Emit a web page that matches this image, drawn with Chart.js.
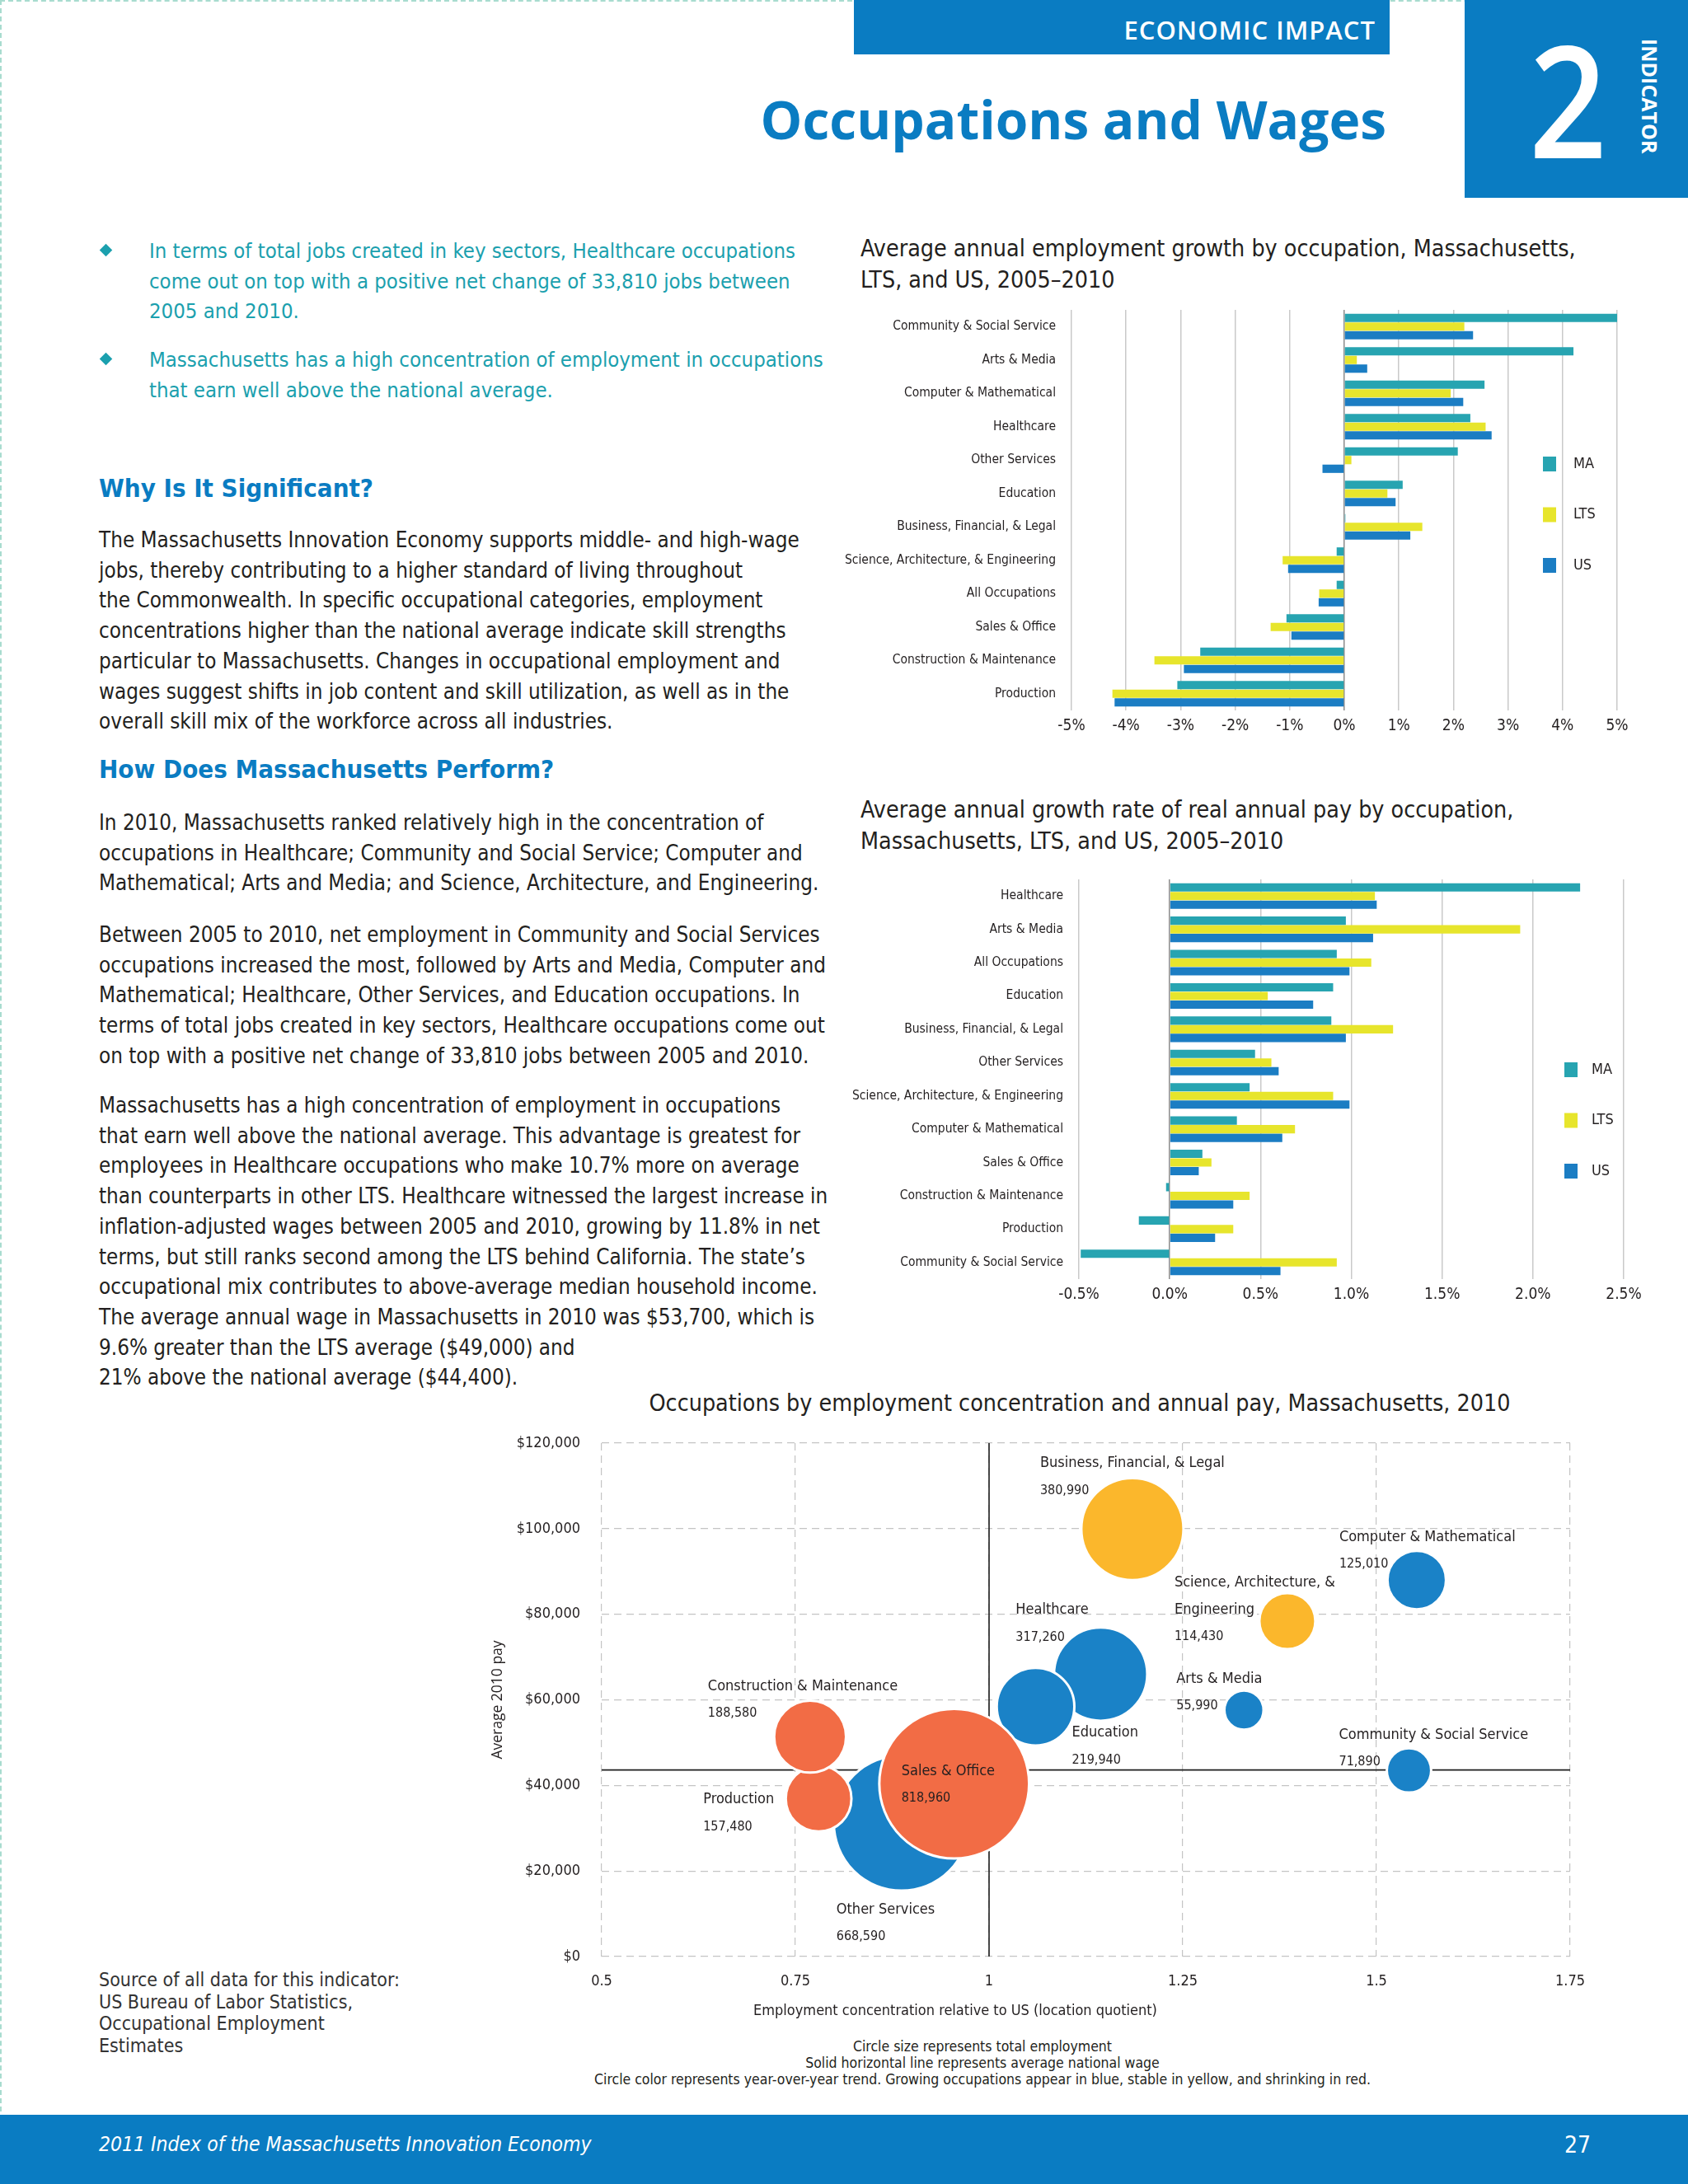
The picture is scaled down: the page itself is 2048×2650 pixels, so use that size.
<!DOCTYPE html>
<html>
<head>
<meta charset="utf-8">
<script src="https://cdn.jsdelivr.net/npm/chart.js@4.4.1/dist/chart.umd.min.js"></script>
<style>
  body { margin: 0; background: #fff; }
  #page { position: relative; width: 2048px; height: 2650px; overflow: hidden; background: #fff;
          font-family: 'Liberation Sans Narrow', 'DejaVu Sans Condensed', Lato, sans-serif; color: #231f20; }
  .abs { position: absolute; white-space: nowrap; }
  .frame { position: absolute; left: 0; top: 0; width: 2100px; height: 2600px; border-top: 2px dashed #a8dccf; border-left: 2px dashed #a8dccf; }
  .topbar { left: 1036px; top: 0; width: 650px; height: 66px; background: #0a7cc2; }
  .topbar span { position: absolute; right: 17px; top: 15px; color: #fff; font: 600 31px 'Open Sans', sans-serif; letter-spacing: 1px; }
  .title { left: 880px; width: 802px; top: 101px; text-align: right; color: #0a7cc2; font: 700 64px 'Open Sans', sans-serif; }
  .indic { left: 1777px; top: 0; width: 271px; height: 240px; background: #0a7cc2; }
  .indic .num { position: absolute; left: 78px; top: 24px; color: #fff; font: 600 188px 'Open Sans', sans-serif; line-height: 190px;
                transform: scaleX(0.88); transform-origin: left top; }
  .indic .word { position: absolute; left: 208px; top: 47px; color: #fff; font: 700 25px 'Open Sans', sans-serif;
                 writing-mode: vertical-rl; }
  .bullet { color: #1ba0ae; font-size: 25.5px; line-height: 36.5px; left: 181px; }
  .dia { width: 11px; height: 11px; background: #1ba0ae; transform: rotate(45deg); left: 123px; }
  .head { color: #0a7cc2; font-weight: 700; font-size: 31px; left: 120px; }
  .para { font-size: 25.8px; line-height: 36.7px; left: 120px; }
  .ctitle { font-size: 28.4px; line-height: 38px; color: #231f20; }
  .notes { left: 692px; width: 1000px; text-align: center; font-size: 17.5px; line-height: 20px; }
  .xtitle { left: 859px; width: 600px; text-align: center; font-size: 18px; top: 2428px; }
  .footer { left: 0; top: 2566px; width: 2048px; height: 84px; background: #0a7cc2; }
  .footer .l { position: absolute; left: 120px; top: 21px; color: #fff; font-style: italic; font-size: 24.5px; }
  .footer .r { position: absolute; left: 1898px; top: 20px; color: #fff; font-size: 28px; }
  .source { left: 120px; top: 2389px; font-size: 23px; line-height: 26.5px; color: #333; }
  .box { position: absolute; }
</style>
</head>
<body>
<div id="page">
  <div class="frame"></div>
  <div class="abs topbar"><span>ECONOMIC IMPACT</span></div>
  <div class="abs title">Occupations and Wages</div>
  <div class="abs indic"><div class="num">2</div><div class="word">INDICATOR</div></div>

  <div class="abs dia" style="top:298px"></div>
  <div class="abs bullet" style="top:286px">In terms of total jobs created in key sectors, Healthcare occupations<br>come out on top with a positive net change of 33,810 jobs between<br>2005 and 2010.</div>
  <div class="abs dia" style="top:430px"></div>
  <div class="abs bullet" style="top:418px">Massachusetts has a high concentration of employment in occupations<br>that earn well above the national average.</div>

  <div class="abs head" style="top:574px">Why Is It Significant?</div>
  <div class="abs para" style="top:637px">The Massachusetts Innovation Economy supports middle- and high-wage<br>jobs, thereby contributing to a higher standard of living throughout<br>the Commonwealth. In specific occupational categories, employment<br>concentrations higher than the national average indicate skill strengths<br>particular to Massachusetts. Changes in occupational employment and<br>wages suggest shifts in job content and skill utilization, as well as in the<br>overall skill mix of the workforce across all industries.</div>

  <div class="abs head" style="top:915px">How Does Massachusetts Perform?</div>
  <div class="abs para" style="top:980px">In 2010, Massachusetts ranked relatively high in the concentration of<br>occupations in Healthcare; Community and Social Service; Computer and<br>Mathematical; Arts and Media; and Science, Architecture, and Engineering.</div>
  <div class="abs para" style="top:1116px">Between 2005 to 2010, net employment in Community and Social Services<br>occupations increased the most, followed by Arts and Media, Computer and<br>Mathematical; Healthcare, Other Services, and Education occupations. In<br>terms of total jobs created in key sectors, Healthcare occupations come out<br>on top with a positive net change of 33,810 jobs between 2005 and 2010.</div>
  <div class="abs para" style="top:1323px">Massachusetts has a high concentration of employment in occupations<br>that earn well above the national average. This advantage is greatest for<br>employees in Healthcare occupations who make 10.7% more on average<br>than counterparts in other LTS. Healthcare witnessed the largest increase in<br>inflation-adjusted wages between 2005 and 2010, growing by 11.8% in net<br>terms, but still ranks second among the LTS behind California. The state’s<br>occupational mix contributes to above-average median household income.<br>The average annual wage in Massachusetts in 2010 was $53,700, which is<br>9.6% greater than the LTS average ($49,000) and<br>21% above the national average ($44,400).</div>

  <div class="abs ctitle" style="left:1044px; top:283px">Average annual employment growth by occupation, Massachusetts,<br>LTS, and US, 2005–2010</div>
  <div class="box" style="left:1000px; top:366px; width:1000px; height:534px"><canvas id="growthChart"></canvas></div>

  <div class="abs ctitle" style="left:1044px; top:964px">Average annual growth rate of real annual pay by occupation,<br>Massachusetts, LTS, and US, 2005–2010</div>
  <div class="box" style="left:1000px; top:1057px; width:1012px; height:533px"><canvas id="payChart"></canvas></div>

  <div class="abs ctitle" style="left:700px; width:1220px; text-align:center; top:1684px">Occupations by employment concentration and annual pay, Massachusetts, 2010</div>
  <div class="box" style="left:580px; top:1735px; width:1350px; height:725px"><canvas id="bubbleChart"></canvas></div>
  <div class="abs xtitle">Employment concentration relative to US (location quotient)</div>
  <div class="abs notes" style="top:2473px">Circle size represents total employment<br>Solid horizontal line represents average national wage<br>Circle color represents year-over-year trend. Growing occupations appear in blue, stable in yellow, and shrinking in red.</div>

  <div class="abs source">Source of all data for this indicator:<br>US Bureau of Labor Statistics,<br>Occupational Employment<br>Estimates</div>

  <div class="abs footer"><span class="l">2011 Index of the Massachusetts Innovation Economy</span><span class="r">27</span></div>
</div>

<script>
// Datos de las graficas
const growthCats = ['Community & Social Service', 'Arts & Media', 'Computer & Mathematical', 'Healthcare',
  'Other Services', 'Education', 'Business, Financial, & Legal', 'Science, Architecture, & Engineering',
  'All Occupations', 'Sales & Office', 'Construction & Maintenance', 'Production'];
const growthMA = [5.0, 4.2, 2.57, 2.31, 2.08, 1.07, 0.02, -0.14, -0.14, -1.06, -2.64, -3.06];
const growthLTS = [2.2, 0.23, 1.95, 2.59, 0.13, 0.79, 1.43, -1.13, -0.46, -1.35, -3.48, -4.25];
const growthUS = [2.36, 0.42, 2.18, 2.70, -0.40, 0.94, 1.21, -1.03, -0.47, -0.97, -2.94, -4.21];
const growthTicks = [-5, -4, -3, -2, -1, 0, 1, 2, 3, 4, 5];

const payCats = ['Healthcare', 'Arts & Media', 'All Occupations', 'Education', 'Business, Financial, & Legal',
  'Other Services', 'Science, Architecture, & Engineering', 'Computer & Mathematical', 'Sales & Office',
  'Construction & Maintenance', 'Production', 'Community & Social Service'];
const payMA = [2.26, 0.97, 0.92, 0.90, 0.89, 0.47, 0.44, 0.37, 0.18, -0.02, -0.17, -0.49];
const payLTS = [1.13, 1.93, 1.11, 0.54, 1.23, 0.56, 0.90, 0.69, 0.23, 0.44, 0.35, 0.92];
const payUS = [1.14, 1.12, 0.99, 0.79, 0.97, 0.60, 0.99, 0.62, 0.16, 0.35, 0.25, 0.61];
const payTicks = [-0.5, 0, 0.5, 1, 1.5, 2, 2.5];

// orden de dibujo: los ultimos quedan encima
const occNames = ['Other Services', 'Healthcare', 'Education', 'Production', 'Construction & Maintenance',
  'Sales & Office', 'Business, Financial, & Legal', 'Science, Architecture, & Engineering',
  'Computer & Mathematical', 'Arts & Media', 'Community & Social Service'];
const locQuotient = [0.887, 1.144, 1.06, 0.78, 0.769, 0.955, 1.185, 1.385, 1.552, 1.329, 1.542];
const avgPay = [31200, 66000, 58400, 36900, 51400, 40400, 99900, 78400, 88000, 57600, 43500];
const employment = [668590, 317260, 219940, 157480, 188580, 818960, 380990, 114430, 125010, 55990, 71890];
const trend = ['grow', 'grow', 'grow', 'shrink', 'shrink', 'shrink', 'stable', 'stable', 'grow', 'grow', 'grow'];
const concTicks = [0.5, 0.75, 1, 1.25, 1.5, 1.75];
const wageTicks = [0, 20000, 40000, 60000, 80000, 100000, 120000];
const nationalAvgWage = 43600;

const colMA = '#27a4b1';
const colLTS = '#e7e52c';
const colUS = '#1b7dc3';
const trendColors = { grow: '#1a82c7', stable: '#fbb72c', shrink: '#f26c45' };

const narrow = "'Liberation Sans Narrow', 'DejaVu Sans Condensed', Lato, sans-serif";
Chart.defaults.font.family = narrow;
Chart.defaults.color = '#231f20';
Chart.defaults.animation = false;

// Leyenda dentro del area de la grafica
const insideLegend = {
  id: 'insideLegend',
  afterDraw(chart, args, opts) {
    const ctx = chart.ctx;
    const area = chart.chartArea;
    ctx.save();
    ctx.font = '18px ' + narrow;
    ctx.textBaseline = 'middle';
    chart.data.datasets.forEach((ds, i) => {
      const x = area.right - opts.fromRight;
      const y = area.top + opts.firstY + i * opts.gap;
      ctx.fillStyle = ds.backgroundColor;
      ctx.fillRect(x - 8, y - 9, 16, 18);
      ctx.fillStyle = '#231f20';
      ctx.fillText(ds.label, x + opts.textGap, y);
    });
    ctx.restore();
  }
};

function barChart(id, cats, ma, lts, us, ticks, fmt, lay) {
  return new Chart(document.getElementById(id), {
    type: 'bar',
    data: {
      labels: cats,
      datasets: [
        { label: 'MA', data: ma, backgroundColor: colMA },
        { label: 'LTS', data: lts, backgroundColor: colLTS },
        { label: 'US', data: us, backgroundColor: colUS }
      ]
    },
    options: {
      indexAxis: 'y',
      responsive: true,
      maintainAspectRatio: false,
      layout: { padding: { top: 10, right: lay.right } },
      datasets: { bar: { categoryPercentage: 0.78, barPercentage: 0.96 } },
      plugins: { legend: { display: false }, tooltip: { enabled: false },
        insideLegend: { fromRight: lay.legendX, firstY: lay.legendY, gap: 61.5, textGap: lay.textGap } },
      scales: {
        x: {
          min: ticks[0], max: ticks[ticks.length - 1],
          afterBuildTicks: s => { s.ticks = ticks.map(v => ({ value: v })); },
          afterFit: s => { s.height = 38; s.paddingLeft = 0; s.paddingRight = 0; },
          ticks: { callback: fmt, font: { size: 19 }, padding: 8 },
          grid: { drawTicks: false, lineWidth: 1.5,
            color: c => (c.tick && c.tick.value === 0) ? '#8c8c8c' : '#c9c9c9' },
          border: { display: false }
        },
        y: {
          afterFit: s => { s.width = lay.axisW; s.paddingTop = 0; s.paddingBottom = 0; },
          ticks: { font: { size: 15.5 }, padding: 19 },
          grid: { display: false, drawTicks: false },
          border: { display: false }
        }
      }
    },
    plugins: [insideLegend]
  });
}

// Etiquetas de las burbujas
const bubbleLabels = {
  id: 'bubbleLabels',
  afterDatasetsDraw(chart, args, opts) {
    const ctx = chart.ctx;
    const meta = chart.getDatasetMeta(0);
    ctx.save();
    ctx.textBaseline = 'middle';
    ctx.fillStyle = '#231f20';
    meta.data.forEach((pt, i) => {
      const pos = opts.pos[i];
      let lines = [occNames[i]];
      if (pos[2]) lines = occNames[i].replace(', & ', ', &\n').split('\n');
      let y = pt.y + pos[1];
      ctx.font = '18px ' + narrow;
      lines.forEach(t => { ctx.fillText(t, pt.x + pos[0], y); y += 33; });
      ctx.font = '16px ' + narrow;
      ctx.fillText(employment[i].toLocaleString('en-US'), pt.x + pos[0], y);
    });
    ctx.restore();
  }
};

function bubbleChart() {
  new Chart(document.getElementById('bubbleChart'), {
    type: 'bubble',
    data: {
      datasets: [
        {
          data: occNames.map((n, i) => ({ x: locQuotient[i], y: avgPay[i], r: 0.1004 * Math.sqrt(employment[i]) })),
          backgroundColor: trend.map(t => trendColors[t]),
          borderColor: '#fff',
          borderWidth: 3
        },
        {
          type: 'line',
          data: [{ x: concTicks[0], y: nationalAvgWage }, { x: concTicks[concTicks.length - 1], y: nationalAvgWage }],
          borderColor: '#1e1e1e', borderWidth: 1.6, pointRadius: 0
        },
        {
          type: 'line',
          data: [{ x: 1, y: wageTicks[0] }, { x: 1, y: wageTicks[wageTicks.length - 1] }],
          borderColor: '#1e1e1e', borderWidth: 1.6, pointRadius: 0
        }
      ]
    },
    options: {
      responsive: true,
      maintainAspectRatio: false,
      layout: { autoPadding: false, padding: { top: 16, right: 25 } },
      clip: false,
      plugins: {
        legend: { display: false }, tooltip: { enabled: false },
        bubbleLabels: {
          // [dx, dy, partir nombre] relativo al centro de cada burbuja
          pos: [[-79, 105], [-103, -78], [44, 32], [-140, 1], [-124, -61], [-64, -15],
                [-112, -80], [-137, -47, true], [-94, -52], [-82, -38], [-85, -43]]
        }
      },
      scales: {
        x: {
          type: 'linear',
          min: concTicks[0], max: concTicks[concTicks.length - 1],
          afterBuildTicks: s => { s.ticks = concTicks.map(v => ({ value: v })); },
          afterFit: s => { s.height = 86; s.paddingLeft = 0; s.paddingRight = 0; },
          ticks: { callback: v => String(v), font: { size: 18 }, padding: 20 },
          grid: { drawTicks: false, color: '#c4c4c4', lineWidth: 1.2 },
          border: { display: false, dash: [9, 6] }
        },
        y: {
          min: wageTicks[0], max: wageTicks[wageTicks.length - 1],
          afterBuildTicks: s => { s.ticks = wageTicks.map(v => ({ value: v })); },
          afterFit: s => { s.width = 150; s.paddingTop = 0; s.paddingBottom = 0; },
          ticks: { callback: v => '$' + v.toLocaleString('en-US'), font: { size: 18 }, padding: 26 },
          grid: { drawTicks: false, color: '#c4c4c4', lineWidth: 1.2 },
          border: { display: false, dash: [9, 6] },
          title: { display: true, text: 'Average 2010 pay',
            font: { size: 17.5, family: "'Open Sans', sans-serif" }, padding: { top: 14 } }
        }
      }
    },
    plugins: [bubbleLabels]
  });
}

// Espera a que las fuentes esten listas para que el canvas use las mismas
document.fonts.ready.then(() => {
  barChart('growthChart', growthCats, growthMA, growthLTS, growthUS, growthTicks,
    v => v + '%', { right: 38, legendX: 82, legendY: 187, textGap: 29, axisW: 300 });
  barChart('payChart', payCats, payMA, payLTS, payUS, payTicks,
    v => v.toFixed(1) + '%', { right: 42, legendX: 64, legendY: 231, textGap: 25, axisW: 309 });
  bubbleChart();
});
</script>
</body>
</html>
